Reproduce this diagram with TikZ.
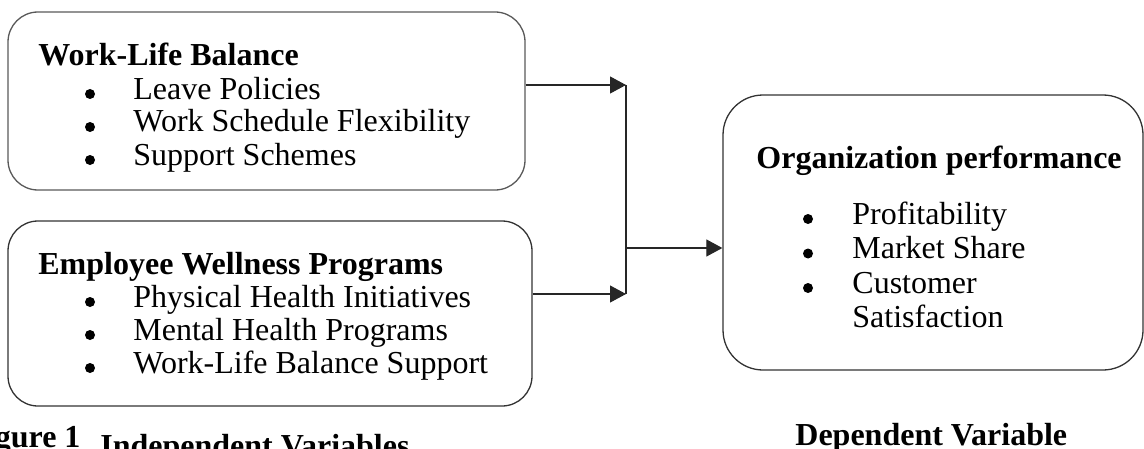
\documentclass[tikz,border=0pt]{standalone}
\usepackage{fontspec}
\setmainfont{Liberation Serif}
\usetikzlibrary{arrows.meta}
\tikzset{
  panel/.style={draw=black!80, line width=0.65pt, rounded corners=15pt, inner sep=0pt},
  title/.style={anchor=base west, inner sep=0pt, font=\fontsize{16pt}{17pt}\selectfont\bfseries},
  entry/.style={anchor=base west, inner sep=0pt, font=\fontsize{16pt}{17pt}\selectfont},
  caption/.style={anchor=base west, inner sep=0pt, font=\fontsize{16pt}{18pt}\selectfont\bfseries},
  bullet/.style={circle, fill=black, inner sep=0pt, minimum size=5pt},
  flow/.style={-{Triangle[length=8pt,width=8.5pt]}, line width=0.55pt, draw=black!85},
}
\begin{document}
\begin{tikzpicture}[x=0.5pt, y=-0.5pt]
	\useasboundingbox (0,0) rectangle (1144,449);

	\node[panel, draw=black!65, minimum width=258.5pt, minimum height=89pt] at (266.5,101) (wlb) {};
	\node[panel, minimum width=262pt, minimum height=92.5pt] at (270,313.5) (wep) {};
	\node[panel, rounded corners=20pt, minimum width=210pt, minimum height=137.5pt] at (933,232.5) (perf) {};

	\node[title] at (38,66) (wlbtitle) {Work-Life Balance};
	\foreach \t [count=\i] in {Leave Policies, Work Schedule Flexibility, Support Schemes} {
		\node[bullet] at (90,61+33*\i) (wlbdot\i) {};
		\node[entry] at (133,66+33*\i) (wlb\i) {\t};
	}

	\node[title] at (38,274) (weptitle) {Employee Wellness Programs};
	\foreach \t [count=\i] in {Physical Health Initiatives, Mental Health Programs, Work-Life Balance Support} {
		\node[bullet] at (90,269+33*\i) (wepdot\i) {};
		\node[entry] at (133,274+33*\i) (wep\i) {\t};
	}

	\node[title] at (756,168) (perftitle) {Organization performance};
	\foreach \t [count=\i] in {Profitability, Market Share, Customer} {
		\node[bullet] at (808,184.5+34.5*\i) (perfdot\i) {};
		\node[entry] at (852,189.5+34.5*\i) (perf\i) {\t};
	}
	\node[entry] at (852,327.5) (perf4) {Satisfaction};

	\coordinate (top) at (626,85);
	\coordinate (bot) at (626,294);
	\coordinate (mid) at (626,248);

	\draw[flow] (wlb.east |- top) -- (top);
	\draw[flow] (wep.east |- bot) -- (bot);
	\draw[line width=0.55pt, draw=black!85] (top) -- (bot);
	\draw[flow] (mid) -- (perf.west |- mid);

	\node[caption] at (-34,447) (fig) {Figure 1};
	\node[caption] at (100,456) (indep) {Independent Variables};
	\node[caption] at (795,445) (dep) {Dependent Variable};

\end{tikzpicture}
\end{document}
